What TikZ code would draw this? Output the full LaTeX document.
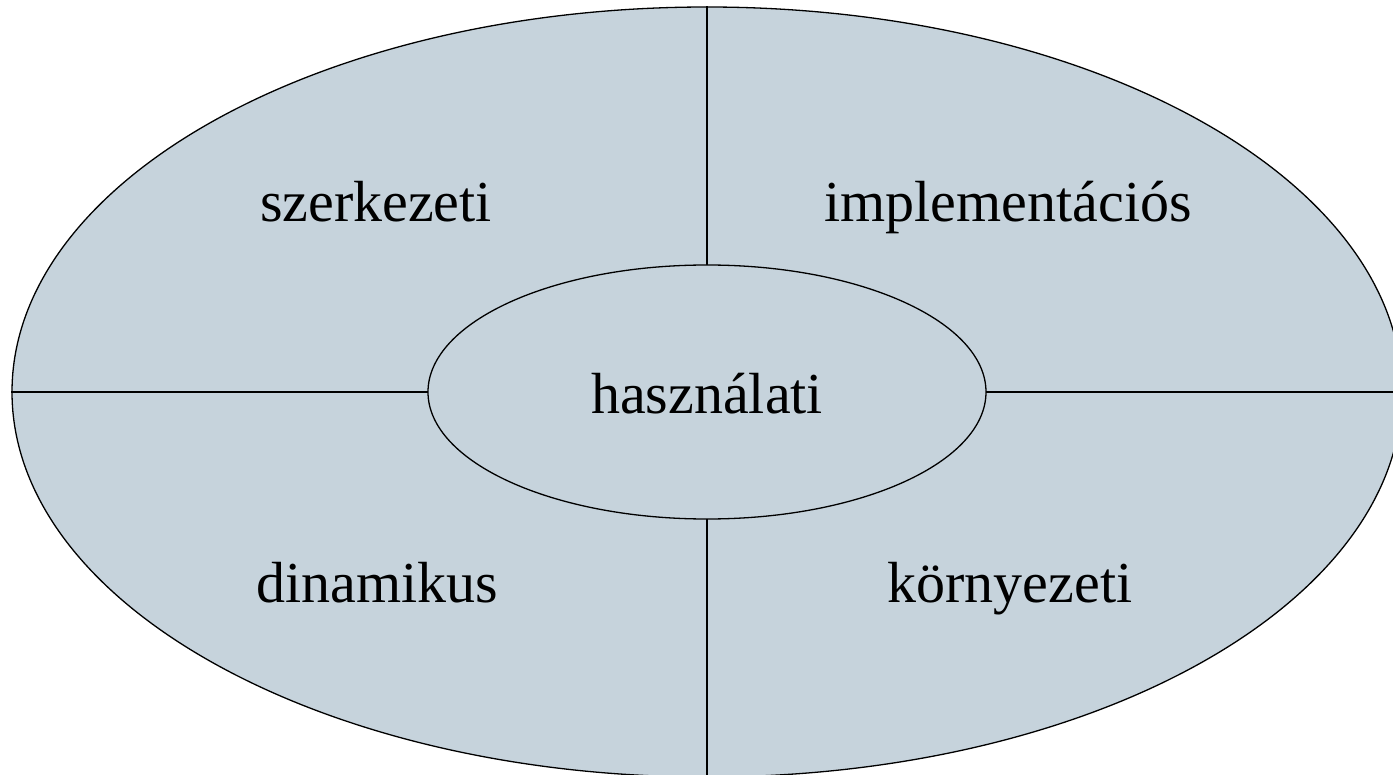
\documentclass[tikz,border=0pt]{standalone}
\usepackage{fontspec}
\setmainfont{Liberation Serif}
\usetikzlibrary{shapes.geometric}
\definecolor{bluegray}{HTML}{C6D3DC}
\tikzset{
  oval/.style={ellipse, draw=black, line width=1.3pt, fill=bluegray, inner sep=0pt},
  divider/.style={draw=black, line width=1.5pt},
  label/.style={font=\fontsize{58}{60}\selectfont, anchor=base, inner sep=0pt}
}
\begin{document}
\begin{tikzpicture}[x=1pt,y=-1pt]
  \useasboundingbox (0,0) rectangle (1393,775);
  \clip (0,0) rectangle (1393,775);
  \node[oval, minimum width=1390pt, minimum height=770pt] (outer) at (707,392) {};
  \draw[divider] (outer.north) -- (outer.south);
  \draw[divider] (outer.west) -- (outer.east);
  \node[oval, minimum width=558pt, minimum height=254pt, font=\fontsize{58}{60}\selectfont] (inner) at (707,392) {};
  \node[label] (use) at (707,414) {használati};
  \node[label] (struct) at (376,222) {szerkezeti};
  \node[label] (impl) at (1008,222) {implementációs};
  \node[label] (dyn) at (377,602) {dinamikus};
  \node[label] (env) at (1010,602) {környezeti};
\end{tikzpicture}
\end{document}
